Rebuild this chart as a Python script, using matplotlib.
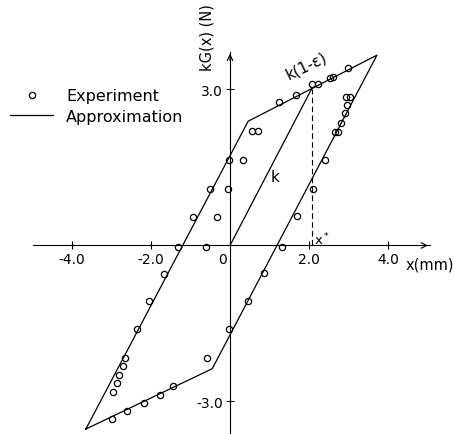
import numpy as np
import matplotlib
matplotlib.use("Agg")
import matplotlib.pyplot as plt

# experiment points (x in mm, kG(x) in N)
exp_x = [-3.00, -2.62, -2.17, -1.77, -1.44, -0.59, -0.03,
         -2.95, -2.85, -2.80, -2.72, -2.66, -2.35, -2.05, -1.68, -1.31, -0.61,
         -0.93, -0.32, -0.51, -0.06, -0.03, 0.32, 0.56, 0.70,
         1.25, 1.68, 2.07, 2.22, 2.53, 2.61, 3.00,
         2.93, 3.04, 2.96, 2.91, 2.81, 2.66, 2.74, 2.41, 2.09, 1.70, 1.31, 0.85, 0.46]
exp_y = [-3.33, -3.18, -3.03, -2.87, -2.71, -2.16, -1.61,
         -2.81, -2.64, -2.50, -2.31, -2.17, -1.61, -1.07, -0.54, -0.02, -0.02,
         0.54, 0.54, 1.09, 1.09, 1.64, 1.64, 2.20, 2.20,
         2.76, 2.90, 3.10, 3.11, 3.23, 3.24, 3.41,
         2.86, 2.86, 2.70, 2.54, 2.35, 2.18, 2.18, 1.64, 1.09, 0.56, -0.02, -0.52, -1.06]

# piecewise linear approximation (closed loop)
approx_x = [-3.65, 0.46, 3.72, -0.45, -3.65]
approx_y = [-3.53, 2.39, 3.66, -2.37, -3.53]

x_star = 2.07
xticks = [-4.0, -2.0, 2.0, 4.0]
yticks = [-3.0, 3.0]

fig = plt.figure(figsize=(4.54, 4.35), dpi=100)
ax = fig.add_axes([0, 0, 1, 1])
ax.set_xlim(-5.823, 5.671)
ax.set_ylim(-3.625, 4.740)

# axes through the origin
for s in ["top", "right"]:
    ax.spines[s].set_visible(False)
ax.spines["left"].set_position("zero")
ax.spines["bottom"].set_position("zero")
ax.spines["bottom"].set_bounds(-5.0, 5.06)
ax.spines["left"].set_bounds(-3.625, 3.72)
ax.spines["left"].set_linewidth(0.8)
ax.spines["bottom"].set_linewidth(0.8)
ax.annotate("", xy=(5.08, 0), xytext=(4.9, 0),
            arrowprops=dict(arrowstyle="->", lw=0.8, color="black"))
ax.annotate("", xy=(0, 3.74), xytext=(0, 3.5),
            arrowprops=dict(arrowstyle="->", lw=0.8, color="black"))

ax.set_xticks(xticks)
ax.set_xticklabels(["-4.0", "-2.0", "2.0", "4.0"], fontsize=10)
ax.set_yticks(yticks)
ax.set_yticklabels(["-3.0", "3.0"], fontsize=10)
ax.tick_params(axis="both", direction="inout", length=6, width=0.8, pad=2)
ax.text(-0.2, -0.12, "0", fontsize=10, ha="center", va="top")

ax.plot(approx_x, approx_y, color="black", lw=0.9, label="Approximation")
ax.plot(exp_x, exp_y, "o", ms=4.5, mfc="none", mec="black", mew=0.9, label="Experiment")

# secant k and x*
y_star = np.interp(x_star, approx_x[:3], approx_y[:3])
ax.plot([0, x_star], [0, y_star], color="black", lw=0.9)
ax.plot([x_star, x_star], [0, y_star], color="black", lw=0.8, ls=(0, (5, 3)))

ax.text(1.14, 1.32, "k", fontsize=11, ha="center", va="center")
ax.text(1.94, 3.46, "k(1-ε)", fontsize=11, ha="center", va="center", rotation=26)
ax.text(2.33, 0.13, "x$^*$", fontsize=9.5, ha="center", va="center")
ax.text(5.06, -0.36, "x(mm)", fontsize=10.5, ha="center", va="center")
ax.text(-0.58, 4.01, "kG(x) (N)", fontsize=10.5, ha="center", va="center", rotation=90)

h, l = ax.get_legend_handles_labels()
ax.legend(h[::-1], l[::-1], loc="upper left", bbox_to_anchor=(0.022, 0.795),
          frameon=False, fontsize=11.5, handlelength=2.7, borderpad=0,
          borderaxespad=0, handletextpad=0.8, labelspacing=0.35)

fig.savefig("out.png", dpi=100)
